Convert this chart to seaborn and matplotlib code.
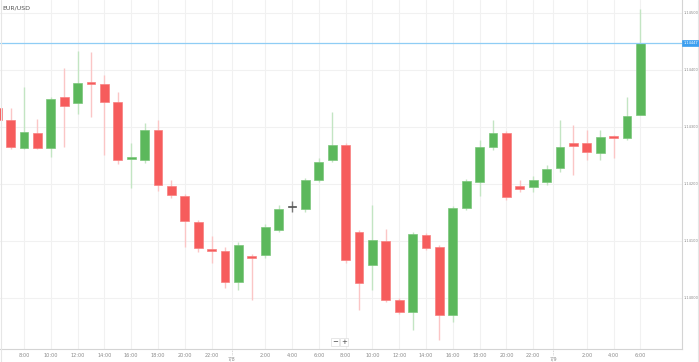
import numpy as np
import matplotlib
matplotlib.use("Agg")
import matplotlib.pyplot as plt
import matplotlib.transforms as mtrans
import seaborn as sns
import pandas as pd

symbol = "EUR/USD"
start_hour = 6  # first candle: 7/7 6:00, hourly candles
opens = [1.14333, 1.14312, 1.14263, 1.14289, 1.14263, 1.14353, 1.14342, 1.14379, 1.14375, 1.14344,
         1.14244, 1.14242, 1.14295, 1.14196, 1.14179, 1.14133, 1.14086, 1.14082, 1.14028, 1.14074,
         1.14075, 1.14119, 1.14160, 1.14156, 1.14207, 1.14242, 1.14268, 1.14116, 1.14058, 1.14100,
         1.13996, 1.13975, 1.14111, 1.14089, 1.13970, 1.14158, 1.14204, 1.14265, 1.14289, 1.14196,
         1.14195, 1.14204, 1.14228, 1.14272, 1.14272, 1.14254, 1.14282, 1.14281, 1.14321]
closes = [1.14312, 1.14265, 1.14291, 1.14263, 1.14349, 1.14337, 1.14377, 1.14375, 1.14344, 1.14242,
          1.14247, 1.14295, 1.14198, 1.14181, 1.14135, 1.14088, 1.14082, 1.14028, 1.14093, 1.14070,
          1.14125, 1.14156, 1.14160, 1.14207, 1.14239, 1.14268, 1.14067, 1.14026, 1.14102, 1.13996,
          1.13975, 1.14112, 1.14088, 1.13970, 1.14158, 1.14205, 1.14265, 1.14289, 1.14177, 1.14191,
          1.14207, 1.14226, 1.14265, 1.14267, 1.14256, 1.14282, 1.14281, 1.14319, 1.14447]
highs = [1.14340, 1.14333, 1.14370, 1.14314, 1.14353, 1.14404, 1.14433, 1.14432, 1.14391, 1.14361,
         1.14272, 1.14307, 1.14312, 1.14207, 1.14182, 1.14137, 1.14109, 1.14089, 1.14098, 1.14077,
         1.14130, 1.14163, 1.14170, 1.14211, 1.14246, 1.14326, 1.14272, 1.14119, 1.14163, 1.14121,
         1.14000, 1.14116, 1.14114, 1.14093, 1.14161, 1.14209, 1.14277, 1.14312, 1.14293, 1.14207,
         1.14214, 1.14233, 1.14312, 1.14304, 1.14295, 1.14295, 1.14286, 1.14353, 1.14507]
lows = [1.14305, 1.14261, 1.14261, 1.14261, 1.14247, 1.14265, 1.14323, 1.14318, 1.14251, 1.14235,
        1.14193, 1.14237, 1.14188, 1.14175, 1.14089, 1.14081, 1.14061, 1.14018, 1.14014, 1.13996,
        1.14070, 1.14116, 1.14151, 1.14151, 1.14204, 1.14239, 1.14061, 1.13979, 1.14014, 1.13993,
        1.13972, 1.13944, 1.14084, 1.13926, 1.13958, 1.14154, 1.14179, 1.14260, 1.14172, 1.14186,
        1.14186, 1.14198, 1.14221, 1.14216, 1.14242, 1.14242, 1.14246, 1.14277, 1.14321]
last_price = 1.14447
price_ticks = [1.14000, 1.14100, 1.14200, 1.14300, 1.14400, 1.14500]
day_labels = ["7/8", "7/9"]

sns.set_theme(style="white")
plt.rcParams['font.family'] = ['DejaVu Sans']

df = pd.DataFrame(dict(open=opens, high=highs, low=lows, close=closes))
df["idx"] = np.arange(len(df))
df["hour"] = (start_hour + df["idx"]) % 24
df["dir"] = np.sign(df["close"] - df["open"])

GREEN = "#5cb85c"
RED = "#f65c5c"
FLAT = "#555555"
GREEN_W = "#c3e5c3"
RED_W = "#fbc6c6"
FLAT_W = "#777777"
body_col = {1: GREEN, -1: RED, 0: FLAT}
edge_col = {1: "#7cc67c", -1: "#f88080", 0: FLAT}
wick_col = {1: GREEN_W, -1: RED_W, 0: FLAT_W}

XMIN, XMAX = 0.21, 51.1

fig = plt.figure(figsize=(6.99, 3.62), dpi=100)
fig.patch.set_facecolor("white")
ax = fig.add_axes([0, 13 / 362, 682 / 699, 349 / 362])
ax.set_facecolor("white")

# grid
for p in price_ticks:
    ax.axhline(p, color="#f1f1f1", lw=0.8, zorder=0)
sel = [(i, h) for i, h in zip(df["idx"], df["hour"]) if h % 2 == 0 and h != 0 and XMIN < i < XMAX]
tick_pos = [i for i, h in sel]
tick_lab = [f"{h}:00" for i, h in sel]
day_pos = [i - 0.5 for i, h in zip(df["idx"], df["hour"]) if h == 0]
for x in tick_pos + day_pos:
    ax.axvline(x, color="#f1f1f1", lw=0.8, zorder=0)

# wicks
ax.vlines(df["idx"], df["low"], df["high"],
          colors=[wick_col[int(d)] for d in df["dir"]], lw=1.0, zorder=2)
# bodies
body_lo = np.minimum(df["open"], df["close"])
body_h = np.abs(df["close"] - df["open"])
body_h = np.where(df["dir"] == 0, 0.000012, np.maximum(body_h, 0.000028))
ax.bar(df["idx"], body_h, bottom=body_lo, width=0.66,
       color=[body_col[int(d)] for d in df["dir"]],
       edgecolor=[edge_col[int(d)] for d in df["dir"]], linewidth=0.5, zorder=3)

# current price line
ax.axhline(last_price, color="#8fcdf5", lw=0.9, zorder=4)

ax.set_xlim(XMIN, XMAX)
ax.set_ylim(1.139105, 1.145228)

ax.set_xticks(tick_pos)
ax.set_xticklabels(tick_lab)
ax.tick_params(axis="x", length=0, pad=3, labelsize=3.6, labelcolor="#8a8a8a")
ax.yaxis.tick_right()
ax.set_yticks(price_ticks)
ax.set_yticklabels([f"{p:.5f}" for p in price_ticks])
ax.tick_params(axis="y", length=0, pad=1.5, labelsize=2.6, labelcolor="#8a8a8a")

for s in ["left", "top"]:
    ax.spines[s].set_visible(False)
for s in ["right", "bottom"]:
    ax.spines[s].set_color("#d4d4d4")
    ax.spines[s].set_linewidth(0.8)

trans = mtrans.blended_transform_factory(ax.transData, ax.transAxes)
for x, lab in zip(day_pos, day_labels):
    ax.text(x, -0.029, lab, transform=trans, ha="center", va="center", fontsize=3.4, color="#8a8a8a")
    ax.plot([x, x], [0, -0.018], transform=trans, color="#c8c8c8", lw=0.6, ls=(0, (1, 1)), clip_on=False)

# price tag
ty = ax.transData.transform((0, last_price))[1]
fy = fig.transFigure.inverted().transform((0, ty))[1]
fig.text(683.5 / 699, fy, f"{last_price:.5f}", fontsize=2.6, color="white", va="center", ha="left",
         bbox=dict(boxstyle="square,pad=0.3", fc="#3d9ff0", ec="#3d9ff0", lw=0.5))

# title
ax.text(0.004, 0.978, symbol, transform=ax.transAxes, fontsize=4.5, color="#555555", ha="left", va="center")

# zoom buttons
for x0, s in [(335 / 699, "−"), (344 / 699, "+")]:
    fig.text(x0, 1 - 342 / 362, s, fontsize=5, color="#444444", ha="center", va="center",
             bbox=dict(boxstyle="square,pad=0.15", fc="white", ec="#dddddd", lw=0.5))

# outer frame
fig.add_artist(plt.Line2D([1 / 699, 1 / 699], [0, 1], transform=fig.transFigure, color="#e6e6e6", lw=0.8))
fig.add_artist(plt.Line2D([697.5 / 699, 697.5 / 699], [0, 1], transform=fig.transFigure, color="#e6e6e6", lw=0.8))

fig.savefig("out.png", dpi=100)
